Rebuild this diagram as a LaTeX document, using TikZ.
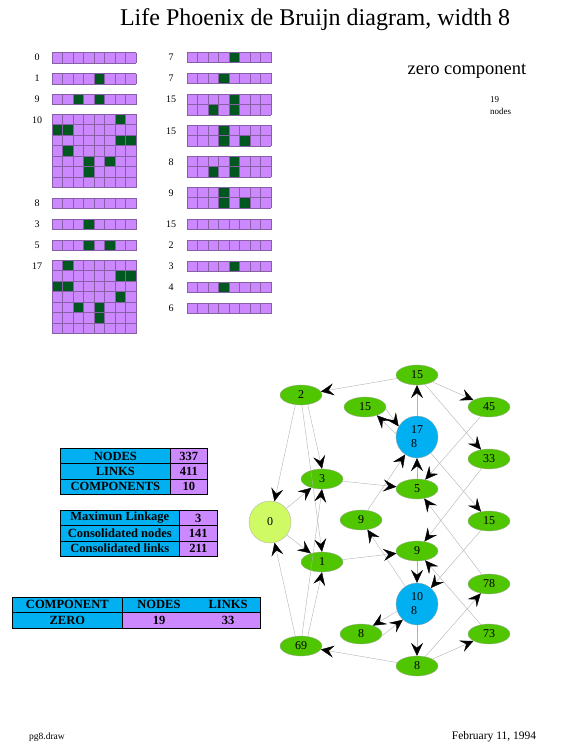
\documentclass[tikz,border=0pt]{standalone}
\usepackage{fontspec}
\setmainfont{Liberation Serif}
\usetikzlibrary{shapes.geometric,arrows.meta}
\definecolor{lilac}{RGB}{204,136,255}
\definecolor{cellon}{RGB}{0,88,32}
\definecolor{gridpurple}{RGB}{135,95,165}
\definecolor{leafgreen}{RGB}{80,198,0}
\definecolor{skyblue}{RGB}{0,176,240}
\definecolor{limeyellow}{RGB}{208,250,100}

% one row block of the de Bruijn strip: x, y, rows; optional dark cells col/row
\newcommand{\lifegrid}[4][]{%
  \fill[lilac] (#2,#3) rectangle ++(84,#4*10.5);
  \if\relax\detokenize{#1}\relax\else
    \foreach \c/\r in {#1} \fill[cellon] (#2+\c*10.5,#3+\r*10.5) rectangle ++(10.5,10.5);
  \fi
  \foreach \i in {0,...,8} \draw[gridpurple, line width=0.5pt] (#2+\i*10.5,#3) -- ++(0,#4*10.5);
  \foreach \j in {0,...,#4} \draw[gridpurple, line width=0.5pt] (#2,#3+\j*10.5) -- ++(84,0);
}

\begin{document}
\begin{tikzpicture}[x=1pt, y=-1pt, every node/.style={inner sep=0pt},
  glabel/.style={font=\fontsize{10}{10}\selectfont},
  gnode/.style={ellipse, draw=gray!70, line width=0.3pt, fill=leafgreen, minimum width=42pt, minimum height=20pt, font=\fontsize{12}{12}\selectfont},
  bignode/.style={circle, draw=gray!70, line width=0.3pt, fill=skyblue, minimum size=42pt, align=left, font=\fontsize{12}{14}\selectfont},
  link/.style={draw=gray!60, line width=0.4pt, -{Stealth[length=13pt,width=12pt,inset=5pt,color=black]}},
  tfont/.style={font=\bfseries\fontsize{12.5}{13}\selectfont},
  tcell/.style={draw=black, line width=0.6pt, anchor=north west, tfont}]
\useasboundingbox (0,0) rectangle (562,750);

\node[font=\fontsize{24}{24}\selectfont] (title) at (315,20) {Life Phoenix de Bruijn diagram, width 8};
\node[font=\fontsize{18.5}{18.5}\selectfont] (comp) at (467,71) {zero component};
\node[anchor=west, align=left, font=\fontsize{9}{12}\selectfont] (count) at (490,106) {19\\nodes};

% left strip
\node[glabel] (l0) at (37,57) {0};      \lifegrid{52}{52.5}{1}
\node[glabel] (l1) at (37,78) {1};      \lifegrid[4/0]{52}{73.5}{1}
\node[glabel] (l9) at (37,99) {9};      \lifegrid[2/0,4/0]{52}{94}{1}
\node[glabel] (l10) at (37,120) {10};   \lifegrid[6/0,0/1,1/1,6/2,7/2,1/3,3/4,5/4,3/5]{52}{114}{7}
\node[glabel] (l8) at (37,203) {8};     \lifegrid{52}{198}{1}
\node[glabel] (l3) at (37,224) {3};     \lifegrid[3/0]{52}{219}{1}
\node[glabel] (l5) at (37,245) {5};     \lifegrid[3/0,5/0]{52}{240}{1}
\node[glabel] (l17) at (37,266) {17};   \lifegrid[1/0,6/1,7/1,0/2,1/2,6/3,2/4,4/4,4/5]{52}{260}{7}

% right strip
\node[glabel] (r7a) at (171,57) {7};    \lifegrid[4/0]{187}{52}{1}
\node[glabel] (r7b) at (171,78) {7};    \lifegrid[3/0]{187}{73}{1}
\node[glabel] (r15a) at (171,99) {15};  \lifegrid[4/0,2/1,4/1]{187}{94}{2}
\node[glabel] (r15b) at (171,131) {15}; \lifegrid[3/0,3/1,5/1]{187}{125}{2}
\node[glabel] (r8) at (171,162) {8};    \lifegrid[4/0,2/1,4/1]{187}{156}{2}
\node[glabel] (r9) at (171,193) {9};    \lifegrid[3/0,3/1,5/1]{187}{187}{2}
\node[glabel] (r15c) at (171,224) {15}; \lifegrid{187}{219}{1}
\node[glabel] (r2) at (171,245) {2};    \lifegrid{187}{240}{1}
\node[glabel] (r3) at (171,266) {3};    \lifegrid[4/0]{187}{261}{1}
\node[glabel] (r4) at (171,287) {4};    \lifegrid[3/0]{187}{282}{1}
\node[glabel] (r6) at (171,308) {6};    \lifegrid{187}{303}{1}

% summary tables
\node[tcell, fill=skyblue, minimum width=110pt, minimum height=15.3pt] (tnodes) at (60,448) {NODES};
\node[tcell, fill=lilac, minimum width=37pt, minimum height=15.3pt] (vnodes) at (170,448) {337};
\node[tcell, fill=skyblue, minimum width=110pt, minimum height=15.3pt] (tlinks) at (60,463.3) {LINKS};
\node[tcell, fill=lilac, minimum width=37pt, minimum height=15.3pt] (vlinks) at (170,463.3) {411};
\node[tcell, fill=skyblue, minimum width=110pt, minimum height=15.3pt] (tcomps) at (60,478.6) {COMPONENTS};
\node[tcell, fill=lilac, minimum width=37pt, minimum height=15.3pt] (vcomps) at (170,478.6) {10};

\node[tcell, fill=skyblue, minimum width=119pt, minimum height=15.3pt] (tmax) at (60,510) {Maximun Linkage};
\node[tcell, fill=lilac, minimum width=38pt, minimum height=15.3pt] (vmax) at (179,510) {3};
\node[tcell, fill=skyblue, minimum width=119pt, minimum height=15.3pt] (tcnodes) at (60,525.3) {Consolidated nodes};
\node[tcell, fill=lilac, minimum width=38pt, minimum height=15.3pt] (vcnodes) at (179,525.3) {141};
\node[tcell, fill=skyblue, minimum width=119pt, minimum height=15.3pt] (tclinks) at (60,540.6) {Consolidated links};
\node[tcell, fill=lilac, minimum width=38pt, minimum height=15.3pt] (vclinks) at (179,540.6) {211};

\node[tcell, fill=skyblue, minimum width=110pt, minimum height=15pt] (hcomp) at (12,597) {COMPONENT};
\node[tcell, fill=skyblue, minimum width=138pt, minimum height=15pt] (hcount) at (122,597) {};
\node[tcell, fill=skyblue, minimum width=110pt, minimum height=16pt] (zero) at (12,612) {ZERO};
\node[tcell, fill=lilac, minimum width=138pt, minimum height=16pt] (zcount) at (122,612) {};
\node[tfont] (hnodes) at (159,604.5) {NODES};
\node[tfont] (hlinks) at (228,604.5) {LINKS};
\node[tfont] (znodes) at (159,620) {19};
\node[tfont] (zlinks) at (228,620) {33};

% zero component graph
\node[gnode] (n15t) at (417,375) {15};
\node[gnode] (n2) at (301,395) {2};
\node[gnode] (n15a) at (365,407) {15};
\node[gnode] (n45) at (489,407) {45};
\node[bignode] (c17) at (417,437) {17\\8};
\node[gnode] (n33) at (489,459) {33};
\node[gnode] (n3) at (322,479) {3};
\node[gnode] (n5) at (417,489) {5};
\node[bignode, fill=limeyellow] (c0) at (270,522) {0};
\node[gnode] (n9a) at (361,520) {9};
\node[gnode] (n15b) at (489,521) {15};
\node[gnode] (n9b) at (417,551) {9};
\node[gnode] (n1) at (322,562) {1};
\node[gnode] (n78) at (489,584) {78};
\node[bignode] (c10) at (417,604) {10\\8};
\node[gnode] (n8a) at (361,634) {8};
\node[gnode] (n73) at (489,634) {73};
\node[gnode] (n69) at (301,646) {69};
\node[gnode] (n8b) at (417,666) {8};

\draw[link] (n15t) -- (n2);
\draw[link] (n15t) -- (n45);
\draw[link] (n15t) -- (n33);
\draw[link] (c17) -- (n15t);
\draw[link] (n15a.-5) -- (c17.150);
\draw[link] (c17.172) -- (n15a.-35);
\draw[link] (c17) -- (n15b);
\draw[link] (n5) -- (c17);
\draw[link] (n45) -- (n5);
\draw[link] (n33) -- (n9b);
\draw[link] (n15b) -- (c10);
\draw[link] (n78) -- (n5);
\draw[link] (n73) -- (n9b);
\draw[link] (n8b) -- (n78);
\draw[link] (n8b) -- (n73);
\draw[link] (c10) -- (n8b);
\draw[link] (n9b) -- (c10);
\draw[link] (c10) -- (n9a);
\draw[link] (c10.200) -- (n8a.35);
\draw[link] (n8a.-5) -- (c10.228);
\draw[link] (n8b) -- (n69);
\draw[link] (n9a) -- (c17);
\draw[link] (n3) -- (n5);
\draw[link] (n1) -- (n9b);
\draw[link] (n2.-120) -- (c0);
\draw[link] (n2.-85) -- (n1.north);
\draw[link] (n2.-55) -- (n3.north);
\draw[link] (c0) -- (n3);
\draw[link] (c0) -- (n1);
\draw[link] (n69.120) -- (c0);
\draw[link] (n69.85) -- (n3.south);
\draw[link] (n69.55) -- (n1.south);

\node[font=\fontsize{9.5}{9.5}\selectfont] (file) at (47,737) {pg8.draw};
\node[font=\fontsize{11.5}{11.5}\selectfont] (date) at (494,737) {February 11, 1994};
\end{tikzpicture}
\end{document}
